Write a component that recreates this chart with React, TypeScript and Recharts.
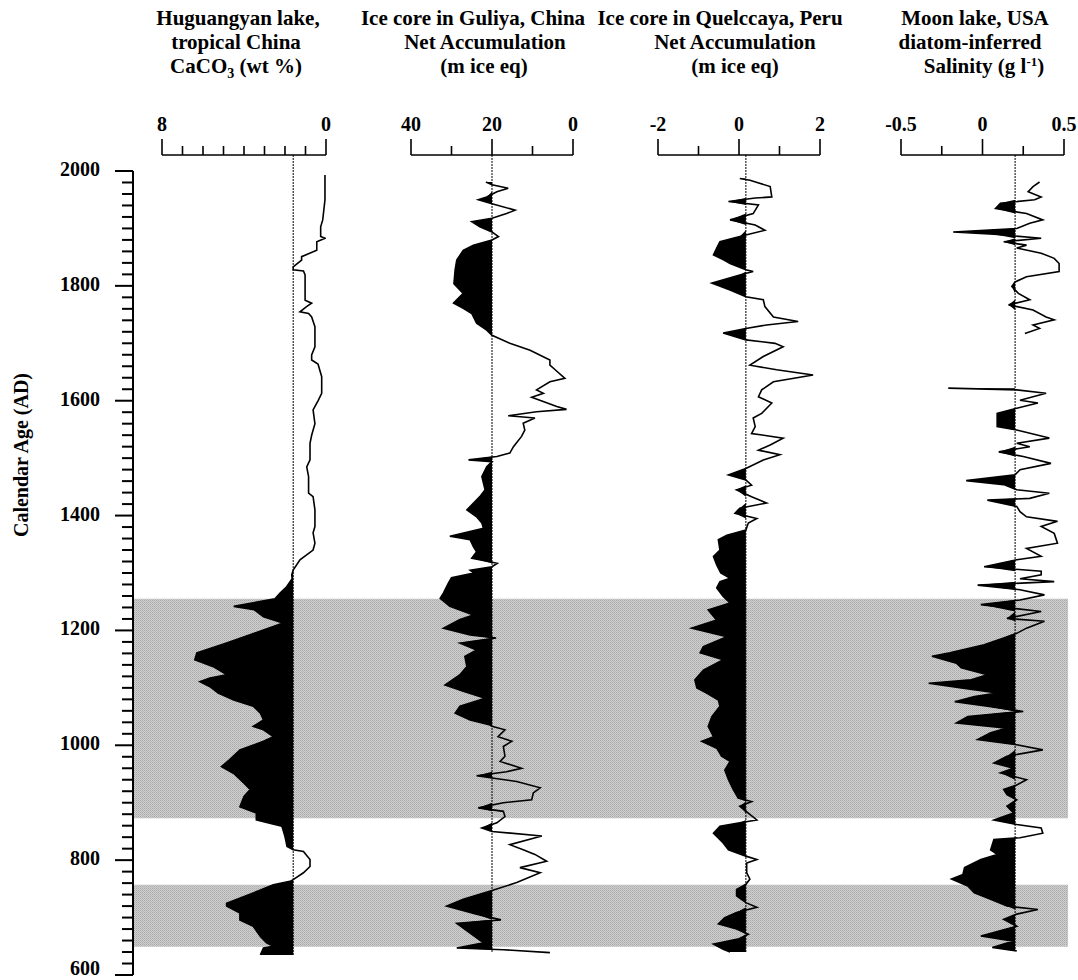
import React from 'react';
import { ComposedChart, Line, Area, XAxis, YAxis, ReferenceLine, ReferenceArea } from 'recharts';

const FONT = '"Liberation Serif", "Times New Roman", Times, serif';
const TOP_YEAR = 2028;

// ---------- axis ticks ----------
const ageTicks = [600, 620, 640, 660, 680, 700, 720, 740, 760, 780, 800, 820, 840, 860, 880, 900, 920, 940, 960, 980,
  1000, 1020, 1040, 1060, 1080, 1100, 1120, 1140, 1160, 1180, 1200, 1220, 1240, 1260, 1280, 1300, 1320, 1340, 1360, 1380,
  1400, 1420, 1440, 1460, 1480, 1500, 1520, 1540, 1560, 1580, 1600, 1620, 1640, 1660, 1680, 1700, 1720, 1740, 1760, 1780,
  1800, 1820, 1840, 1860, 1880, 1900, 1920, 1940, 1960, 1980, 2000];
const ageLabels = [600, 800, 1000, 1200, 1400, 1600, 1800, 2000];

const huguangyanTicks = [8, 7, 6, 5, 4, 3, 2, 1, 0];
const huguangyanLabels = [8, 0];
const guliyaTicks = [40, 30, 20, 10, 0];
const guliyaLabels = [40, 20, 0];
const quelccayaTicks = [-2, -1, 0, 1, 2];
const quelccayaLabels = [-2, 0, 2];
const moonTicks = [-0.5, -0.25, 0, 0.25, 0.5];
const moonLabels = [-0.5, 0, 0.5];

// ---------- shaded periods (AD) ----------
const bandStart = [1255, 757];
const bandEnd = [873, 649];

// ---------- reference (mean) lines ----------
const huguangyanRef = 1.6;
const guliyaRef = 20;
const quelccayaRef = 0.17;
const moonRef = 0.2;

// ---------- series: [year AD, value] ----------
const huguangyan: [number, number][] = [
  [1993, 0.05], [1950, 0.05], [1915, 0.16], [1903, 0.26], [1886, 0.26], [1883, 0.05], [1877, 0.45], [1862, 0.45],
  [1851, 1.19], [1845, 1.19], [1833, 1.6], [1828, 1.6], [1826, 1.1], [1819, 1.02], [1787, 1.02], [1775, 1.02],
  [1770, 0.7], [1764, 0.95], [1755, 1.27], [1752, 0.85], [1746, 0.7], [1729, 0.54], [1694, 0.54], [1680, 0.7],
  [1671, 0.7], [1664, 0.39], [1642, 0.21], [1613, 0.21], [1600, 0.39], [1584, 0.63], [1560, 0.54], [1540, 0.7],
  [1526, 0.78], [1497, 0.78], [1485, 0.94], [1468, 0.85], [1439, 0.85], [1433, 0.63], [1410, 0.54], [1381, 0.54],
  [1370, 0.63], [1352, 0.54], [1340, 0.63], [1323, 1.27], [1305, 1.6], [1297, 1.67], [1290, 1.65], [1276, 1.92],
  [1265, 2.24], [1255, 2.49], [1242, 4.5], [1236, 3.5], [1224, 3.05], [1213, 2.1], [1207, 2.57], [1195, 3.5],
  [1178, 4.85], [1161, 6.3], [1149, 6.4], [1137, 5.5], [1123, 4.85], [1117, 5.66], [1111, 6.15], [1102, 5.66],
  [1091, 5.26], [1079, 4.5], [1068, 3.55], [1056, 3.2], [1044, 3.05], [1033, 3.55], [1027, 3.05], [1015, 2.57],
  [1007, 3.05], [992, 4.2], [975, 4.7], [963, 5.1], [951, 4.5], [934, 4.0], [923, 3.7], [911, 4.0], [893, 4.2],
  [882, 3.4], [870, 3.4], [864, 2.7], [859, 2.15], [841, 2.0], [824, 1.9], [818, 1.6], [815, 1.1], [801, 0.78],
  [789, 0.78], [778, 1.1], [766, 1.6], [763, 1.76], [757, 2.57], [743, 3.55], [725, 4.85], [720, 4.85], [708, 4.2],
  [696, 4.2], [685, 3.55], [667, 3.2], [656, 2.9], [650, 2.57], [647, 3.05], [635, 3.2],
];

const guliya: [number, number][] = [
  [1981, 21.5], [1976, 20], [1970, 16], [1964, 18.8], [1955, 21.3], [1950, 23.4], [1943, 20], [1932, 14.3],
  [1926, 16.4], [1918, 20], [1912, 25], [1903, 23], [1894, 20], [1886, 18.4], [1880, 20], [1871, 24.6],
  [1862, 27.1], [1845, 28.7], [1828, 29.1], [1804, 29.4], [1787, 27.1], [1770, 29.5], [1761, 27.1], [1752, 25],
  [1735, 23.8], [1723, 21.3], [1714, 20], [1700, 15.6], [1688, 10.6], [1671, 5.7], [1662, 5.7], [1654, 4.4],
  [1639, 2.0], [1633, 5.7], [1619, 9.0], [1613, 7.3], [1606, 10.2], [1590, 4.0], [1585, 1.6], [1581, 9.0],
  [1574, 16.0], [1570, 9.4], [1561, 12.3], [1549, 11.9], [1538, 12.7], [1520, 14.7], [1509, 15.6], [1503, 18.8],
  [1497, 25.8], [1494, 20], [1485, 21.3], [1468, 22.5], [1445, 21.7], [1433, 23], [1410, 26.2], [1398, 23.8],
  [1387, 22.5], [1378, 22.1], [1364, 30.4], [1358, 25.4], [1346, 24.6], [1337, 23.8], [1326, 25], [1317, 18.7],
  [1311, 20], [1305, 25.4], [1300, 24.5], [1292, 30], [1282, 30.8], [1265, 32], [1256, 32.8], [1242, 30.4],
  [1227, 24.6], [1219, 27.9], [1204, 32], [1192, 25.4], [1187, 19], [1178, 27.9], [1166, 23.8], [1155, 26.7],
  [1137, 26.2], [1123, 27.9], [1105, 31.6], [1094, 27.1], [1082, 21.7], [1068, 27.9], [1056, 29.1], [1044, 25.4],
  [1036, 20.7], [1033, 20], [1027, 16.8], [1015, 18.5], [1007, 15.1], [998, 17.2], [981, 16.8], [972, 18],
  [960, 12.7], [954, 16.4], [947, 23.8], [943, 20], [937, 13.9], [926, 8.1], [917, 9.8], [905, 10.2], [900, 17.2],
  [891, 23.4], [885, 17.2], [876, 16.8], [865, 18.8], [856, 22.5], [850, 20], [842, 7.7], [827, 15.6], [818, 12.3],
  [810, 9.4], [798, 6.5], [787, 13.1], [778, 8.1], [761, 13.9], [747, 20], [732, 27.1], [720, 31.2], [706, 23.8],
  [696, 17.8], [690, 28.7], [673, 25.4], [656, 22.1], [647, 28.7], [644, 17.2], [639, 5.7],
];

const quelccaya: [number, number][] = [
  [1987, 0.02], [1984, 0.27], [1973, 0.77], [1955, 0.81], [1953, 0.4], [1947, -0.26], [1941, 0.48], [1926, 0.35],
  [1915, -0.22], [1906, 0.4], [1897, 0.64], [1886, 0.02], [1877, -0.47], [1866, -0.55], [1854, -0.63], [1845, -0.37],
  [1839, -0.22], [1828, 0.17], [1825, 0.35], [1819, 0.02], [1805, -0.67], [1793, -0.22], [1781, 0.17], [1776, 0.6],
  [1764, 0.64], [1746, 0.85], [1738, 1.46], [1732, 0.68], [1726, 0.17], [1718, -0.39], [1706, 0.17], [1700, 0.89],
  [1694, 1.09], [1677, 0.6], [1662, 0.27], [1654, 0.93], [1645, 1.83], [1633, 0.85], [1619, 0.56], [1607, 0.48],
  [1596, 0.81], [1578, 0.56], [1570, 0.35], [1555, 0.4], [1543, 0.31], [1535, 1.09], [1523, 0.77], [1514, 0.48],
  [1506, 1.01], [1497, 0.6], [1482, 0.17], [1471, -0.26], [1462, 0.17], [1453, 0.31], [1445, -0.06], [1433, 0.31],
  [1422, 0.68], [1413, 0.02], [1404, -0.1], [1395, 0.44], [1387, 0.23], [1375, 0.17], [1366, -0.3], [1358, -0.51],
  [1340, -0.47], [1329, -0.63], [1314, -0.55], [1300, -0.45], [1291, -0.22], [1285, -0.47], [1274, -0.55],
  [1259, -0.39], [1248, -0.22], [1236, -0.76], [1218, -0.55], [1204, -1.17], [1189, -0.3], [1172, -0.88],
  [1161, -0.96], [1149, -0.39], [1131, -0.88], [1114, -1.09], [1100, -1.04], [1091, -0.8], [1079, -0.51],
  [1068, -0.47], [1050, -0.67], [1033, -0.76], [1015, -0.63], [1007, -0.92], [995, -0.55], [981, -0.43],
  [972, -0.22], [957, -0.35], [940, -0.26], [923, -0.14], [908, -0.02], [902, 0.31], [894, 0.02], [882, 0.23],
  [870, 0.44], [865, 0.02], [859, -0.47], [847, -0.63], [830, -0.39], [818, -0.26], [807, 0.17], [801, 0.44],
  [795, 0.19], [778, 0.19], [767, 0.27], [758, 0.17], [749, -0.06], [738, -0.06], [726, 0.17], [718, 0.44],
  [709, -0.06], [700, -0.35], [689, -0.51], [680, -0.06], [671, 0.23], [663, 0.0], [654, -0.63], [645, -0.39],
  [640, -0.22],
];

// Moon lake record has a gap (no samples between ~1717 and ~1622 AD)
const moonLakeRecent: [number, number][] = [
  [1981, 0.35], [1973, 0.31], [1964, 0.28], [1955, 0.36], [1950, 0.32], [1944, 0.11], [1935, 0.08], [1926, 0.27],
  [1915, 0.37], [1909, 0.29], [1900, 0.21], [1894, -0.18], [1890, 0.07], [1883, 0.36], [1877, 0.13], [1871, 0.27],
  [1866, 0.21], [1857, 0.36], [1848, 0.44], [1839, 0.47], [1825, 0.47], [1816, 0.27], [1807, 0.2], [1799, 0.18],
  [1787, 0.22], [1776, 0.29], [1767, 0.16], [1758, 0.31], [1746, 0.39], [1741, 0.44], [1732, 0.31], [1726, 0.35],
  [1717, 0.26],
];
const moonLakeEarly: [number, number][] = [
  [1622, -0.21], [1619, 0.21], [1613, 0.39], [1601, 0.23], [1596, 0.34], [1587, 0.21],
  [1578, 0.09], [1555, 0.09], [1549, 0.21], [1535, 0.41], [1526, 0.21], [1520, 0.29], [1511, 0.1], [1503, 0.25],
  [1491, 0.42], [1480, 0.23], [1471, 0.2], [1461, -0.1], [1454, 0.13], [1445, 0.21], [1439, 0.41], [1430, 0.29],
  [1427, 0.03], [1416, 0.21], [1407, 0.23], [1398, 0.27], [1390, 0.46], [1381, 0.36], [1369, 0.44], [1352, 0.46],
  [1343, 0.27], [1329, 0.36], [1323, 0.21], [1311, 0.01], [1303, 0.36], [1297, 0.36], [1290, 0.23], [1285, 0.44],
  [1279, -0.03], [1271, 0.23], [1262, 0.38], [1253, 0.23], [1245, -0.01], [1233, 0.36], [1221, 0.15], [1216, 0.38],
  [1204, 0.27], [1195, 0.21], [1187, 0.13], [1175, 0.01], [1161, -0.2], [1155, -0.31], [1143, -0.16], [1135, -0.13],
  [1123, 0.03], [1114, -0.07], [1108, -0.33], [1100, -0.13], [1091, 0.09], [1085, -0.05], [1076, -0.17], [1068, 0.03],
  [1059, 0.25], [1050, -0.09], [1039, -0.16], [1030, 0.15], [1022, 0.05], [1010, -0.03], [1001, 0.21], [992, 0.37],
  [981, 0.15], [969, 0.07], [960, 0.19], [952, 0.11], [940, 0.27], [931, 0.21], [923, 0.13], [914, 0.15], [905, 0.21],
  [894, 0.15], [882, 0.19], [870, 0.07], [862, 0.21], [856, 0.36], [847, 0.37], [839, 0.23], [836, 0.07], [818, 0.05],
  [810, 0.09], [801, -0.01], [787, -0.11], [775, -0.12], [767, -0.19], [755, -0.09], [743, -0.05], [732, 0.05],
  [720, 0.15], [714, 0.34], [706, 0.21], [697, 0.13], [685, 0.21], [668, -0.01], [659, 0.19], [648, 0.06], [642, 0.21],
];

// ---------- components ----------
function TopTick(props: any) {
  const { x, y, payload, labeled } = props;
  const isLab = labeled.includes(payload.value);
  return (
    <g>
      <line x1={x} x2={x} y1={y} y2={y - (isLab ? 16 : 9)} stroke="#000" strokeWidth={1.6} />
      {isLab && (
        <text x={x} y={y - 24} textAnchor="middle" fontFamily={FONT} fontWeight="bold" fontSize={20} fill="#000">
          {String(payload.value)}
        </text>
      )}
    </g>
  );
}

function LeftTick(props: any) {
  const { x, y, payload } = props;
  const major = ageLabels.includes(payload.value);
  const isBottom = payload.value === ageLabels[0];
  return (
    <g>
      <line x1={x - (major ? 18 : 11)} x2={x} y1={y} y2={y} stroke="#000" strokeWidth={2} />
      {major && (
        <text x={x - 33} y={y + (isBottom ? 0 : 5)} textAnchor="end" fontFamily={FONT} fontWeight="bold" fontSize={20} fill="#000">
          {String(payload.value)}
        </text>
      )}
    </g>
  );
}

const axisRows = ageTicks.map((year) => ({ year, pos: 0.5 }));

function AgeAxisChart() {
  return (
    <div style={{ position: 'absolute', left: 0, top: 0 }}>
      <ComposedChart width={1078} height={980} data={axisRows} margin={{ top: 171, right: 10, bottom: 5, left: 0 }}>
        <defs>
          <pattern id="halftone" width={2} height={2} patternUnits="userSpaceOnUse">
            <rect width={2} height={2} fill="#cfcfcf" />
            <rect width={1} height={1} fill="#a9a9a9" />
            <rect x={1} y={1} width={1} height={1} fill="#b8b8b8" />
          </pattern>
        </defs>
        <XAxis type="number" dataKey="pos" domain={[0, 1]} hide />
        <YAxis
          type="number"
          domain={[600, 2000]}
          ticks={ageTicks}
          interval={0}
          width={133}
          tickSize={0}
          tickMargin={0}
          tickLine={false}
          axisLine={{ stroke: '#000', strokeWidth: 2 }}
          tick={(p: any) => <LeftTick {...p} />}
          allowDataOverflow
        />
        {bandStart.map((s, i) => (
          <ReferenceArea key={i} x1={0} x2={1} y1={bandEnd[i]} y2={s} fill="url(#halftone)" fillOpacity={1} stroke="none" />
        ))}
      </ComposedChart>
    </div>
  );
}

type PanelProps = {
  left: number;
  width: number;
  segments: [number, number][][];
  refValue: number;
  fillBelow: boolean;
  domain: [number, number];
  reversed: boolean;
  ticks: number[];
  labeled: number[];
};

function Panel({ left, width, segments, refValue, fillBelow, domain, reversed, ticks, labeled }: PanelProps) {
  const segData = segments.map((seg) =>
    seg.map(([year, v]) => ({
      year,
      v,
      f: fillBelow ? Math.min(v, refValue) : Math.max(v, refValue),
    }))
  );
  const minYear = Math.min(...segments.flat().map((d) => d[0]));
  const M = 40;
  return (
    <div style={{ position: 'absolute', left: left - M, top: 0 }}>
      <ComposedChart
        layout="vertical"
        width={width + 2 * M}
        height={980}
        data={segData[0]}
        margin={{ top: 115, right: M, bottom: 5, left: M }}
      >
        <XAxis
          type="number"
          orientation="top"
          domain={domain}
          reversed={reversed}
          ticks={ticks}
          interval={0}
          height={40}
          tickSize={0}
          tickMargin={0}
          tickLine={false}
          axisLine={{ stroke: '#000', strokeWidth: 1.6 }}
          tick={(p: any) => <TopTick {...p} labeled={labeled} />}
          allowDataOverflow
        />
        <YAxis type="number" dataKey="year" domain={[600, TOP_YEAR]} reversed hide allowDataOverflow />
        <ReferenceLine
          segment={[{ x: refValue, y: TOP_YEAR }, { x: refValue, y: minYear }]}
          stroke="#000"
          strokeWidth={1}
          strokeDasharray="2 1"
        />
        {segData.map((d, i) => (
          <Area
            key={'a' + i}
            data={d}
            dataKey="f"
            baseValue={refValue}
            type="linear"
            fill="#000"
            fillOpacity={1}
            stroke="none"
            isAnimationActive={false}
          />
        ))}
        {segData.map((d, i) => (
          <Line
            key={'l' + i}
            data={d}
            dataKey="v"
            type="linear"
            stroke="#000"
            strokeWidth={1.6}
            dot={false}
            isAnimationActive={false}
          />
        ))}
      </ComposedChart>
    </div>
  );
}

function Titles() {
  const t = { fontFamily: FONT, fontWeight: 'bold' as const, fontSize: 21, fill: '#000', textAnchor: 'middle' as const };
  return (
    <svg width={1078} height={100} style={{ position: 'absolute', left: 0, top: 0 }}>
      <text x={238} y={25} {...t}>Huguangyan lake,</text>
      <text x={236} y={49} {...t}>tropical China</text>
      <text x={236} y={73} {...t}>
        CaCO<tspan dy={5} fontSize={14}>3</tspan>
        <tspan dy={-5}> (wt %)</tspan>
      </text>

      <text x={473} y={25} {...t}>Ice core in Guliya, China</text>
      <text x={485} y={49} {...t}>Net Accumulation</text>
      <text x={484} y={73} {...t}>(m ice eq)</text>

      <text x={720} y={25} {...t}>Ice core in Quelccaya, Peru</text>
      <text x={735} y={49} {...t}>Net Accumulation</text>
      <text x={735} y={73} {...t}>(m ice eq)</text>

      <text x={975} y={25} {...t}>Moon lake, USA</text>
      <text x={970} y={49} {...t}>diatom-inferred</text>
      <text x={984} y={73} {...t}>
        Salinity (g l<tspan dy={-7} fontSize={13}>-1</tspan>
        <tspan dy={7}>)</tspan>
      </text>
    </svg>
  );
}

function AgeLabel() {
  return (
    <svg width={60} height={980} style={{ position: 'absolute', left: 0, top: 0 }}>
      <text
        transform="translate(28,455) rotate(-90)"
        textAnchor="middle"
        fontFamily={FONT}
        fontWeight="bold"
        fontSize={20}
        fill="#000"
      >
        Calendar Age (AD)
      </text>
    </svg>
  );
}

export default function App() {
  return (
    <div style={{ position: 'absolute', left: 0, top: 0, width: 1078, height: 980, background: '#fff' }}>
      <AgeAxisChart />
      <Panel left={162} width={164} segments={[huguangyan]} refValue={huguangyanRef} fillBelow={false}
        domain={[0, 8]} reversed ticks={huguangyanTicks} labeled={huguangyanLabels} />
      <Panel left={411} width={162} segments={[guliya]} refValue={guliyaRef} fillBelow={false}
        domain={[0, 40]} reversed ticks={guliyaTicks} labeled={guliyaLabels} />
      <Panel left={658} width={162} segments={[quelccaya]} refValue={quelccayaRef} fillBelow
        domain={[-2, 2]} reversed={false} ticks={quelccayaTicks} labeled={quelccayaLabels} />
      <Panel left={901} width={163} segments={[moonLakeRecent, moonLakeEarly]} refValue={moonRef} fillBelow
        domain={[-0.5, 0.5]} reversed={false} ticks={moonTicks} labeled={moonLabels} />
      <Titles />
      <AgeLabel />
    </div>
  );
}
